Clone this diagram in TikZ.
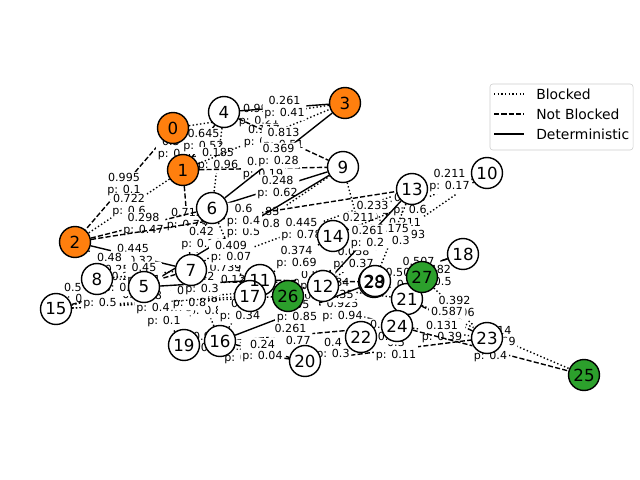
\documentclass[tikz,border=0pt]{standalone}
\usepackage{fontspec}
\setmainfont{DejaVu Sans}
\pgfdeclarelayer{back}
\pgfdeclarelayer{front}
\pgfsetlayers{back,main,front}
\definecolor{nodeorange}{HTML}{FF7F0E}
\definecolor{nodegreen}{HTML}{2CA02C}

\begin{document}
\begin{tikzpicture}[x=0.72pt,y=-0.72pt]

\tikzstyle{vertex}=[circle,draw=black,line width=1pt,fill=white,minimum size=22.3pt,inner sep=0pt]
\tikzstyle{blk}=[line width=1pt,dash pattern=on 1pt off 1.65pt]
\tikzstyle{nblk}=[line width=1pt,dash pattern=on 3.7pt off 1.6pt]
\tikzstyle{det}=[line width=1pt]
\tikzstyle{weight}=[midway,fill=white,inner sep=1.2pt,rounded corners=2pt,align=center,font=\fontsize{8}{8.6}\selectfont]
\useasboundingbox (0,0) rectangle (640,480);

\node[vertex, fill=nodeorange] (0) at (173,128){};
\node[vertex, fill=nodeorange] (1) at (183,170){};
\node[vertex, fill=nodeorange] (2) at (75,242){};
\node[vertex, fill=nodeorange] (3) at (345,103){};
\node[vertex] (4) at (224,112){};
\node[vertex] (5) at (144,287){};
\node[vertex] (6) at (212,208){};
\node[vertex] (7) at (191,270){};
\node[vertex] (8) at (97,279){};
\node[vertex] (9) at (343,167){};
\node[vertex] (10) at (487,173){};
\node[vertex] (11) at (260,280){};
\node[vertex] (12) at (323,286){};
\node[vertex] (13) at (412,189){};
\node[vertex] (14) at (333,236){};
\node[vertex] (15) at (56,309){};
\node[vertex] (16) at (220,341){};
\node[vertex] (17) at (250,296){};
\node[vertex] (18) at (463,254){};
\node[vertex] (19) at (184,345){};
\node[vertex] (20) at (305,361){};
\node[vertex] (21) at (407,299){};
\node[vertex] (22) at (361,337){};
\node[vertex] (23) at (487,338){};
\node[vertex] (24) at (397,326){};
\node[vertex, fill=nodegreen] (25) at (584,375){};
\node[vertex, fill=nodegreen] (26) at (288,296){};
\node[vertex, fill=nodegreen] (27) at (422,277){};
\node[vertex] (28) at (374,282){};
\node[vertex] (29) at (375,281){};

\begin{pgfonlayer}{back}
\draw[nblk] (0) -- (2)node[weight] {0.995\\p: 0.1};
\draw[blk] (1) -- (2)node[weight] {0.722\\p: 0.6};
\draw[blk] (0) -- (3)node[weight] {0.997\\p: 0.21};
\draw[nblk] (0) -- (1)node[weight] {0.374\\p: 0.83};
\draw[det] (1) -- (4)node[weight] {0.645\\p: 0.52};
\draw[blk] (4) -- (6)node[weight] {0.185\\p: 0.96};
\draw[nblk] (1) -- (9)node[weight] {0.902\\p: 0.19};
\draw[nblk] (1) -- (7)node[weight] {0.713\\p: 0.73};
\draw[blk] (1) -- (3)node[weight] {0.117\\p: 0.49};
\draw[det] (4) -- (3)node[weight] {0.261\\p: 0.41};
\draw[nblk] (4) -- (9)node[weight] {0.813\\p: 0.51};
\draw[det] (3) -- (6)node[weight] {0.369\\p: 0.28};
\draw[det] (6) -- (9)node[weight] {0.248\\p: 0.62};
\draw[nblk] (2) -- (6)node[weight] {0.298\\p: 0.47};
\draw[det] (2) -- (7)node[weight] {0.445\\p: 0.32};
\draw[blk] (2) -- (5)node[weight] {0.48\\p: 0.25};
\draw[blk] (6) -- (7)node[weight] {0.42\\p: 0.18};
\draw[nblk] (6) -- (14)node[weight] {0.456\\p: 0.33};
\draw[blk] (7) -- (9)node[weight] {0.83\\p: 0.85};
\draw[blk] (7) -- (13)node[weight] {0.445\\p: 0.78};
\draw[blk] (13) -- (14)node[weight] {0.233\\p: 0.7};
\draw[blk] (9) -- (28)node[weight] {0.211\\p: 0.9};
\draw[blk] (10) -- (14)node[weight] {0.185\\p: 0.6};
\draw[blk] (10) -- (12)node[weight] {0.211\\p: 0.93};
\draw[nblk] (13) -- (10)node[weight] {0.211\\p: 0.17};
\draw[det] (5) -- (9)node[weight] {0.374\\p: 0.5};
\draw[nblk] (2) -- (13)node[weight] {0.6\\p: 0.4};
\draw[blk] (13) -- (28)node[weight] {0.175\\p: 0.3};
\draw[blk] (14) -- (28)node[weight] {0.058\\p: 0.37};
\draw[det] (13) -- (12)node[weight] {0.261\\p: 0.2};
\draw[nblk] (18) -- (29)node[weight] {0.56\\p: 0.43};
\draw[det] (18) -- (28)node[weight] {0.507\\p: 0.29};
\draw[det] (18) -- (21)node[weight] {0.482\\p: 0.5};
\draw[blk] (27) -- (23)node[weight] {0.392\\p: 0.06};
\draw[blk] (21) -- (25)node[weight] {0.014\\p: 0.69};
\draw[nblk] (21) -- (23)node[weight] {0.587\\p: 0.2};
\draw[blk] (24) -- (23)node[weight] {0.131\\p: 0.39};
\draw[nblk] (20) -- (23)node[weight] {0.5\\p: 0.11};
\draw[nblk] (24) -- (25)node[weight] {0.3\\p: 0.4};
\draw[nblk] (26) -- (24)node[weight] {0.925\\p: 0.94};
\draw[blk] (11) -- (21)node[weight] {0.834\\p: 0.35};
\draw[det] (26) -- (12)node[weight] {0.73\\p: 0.9};
\draw[nblk] (11) -- (28)node[weight] {0.554\\p: 0.3};
\draw[det] (16) -- (28)node[weight] {0.35\\p: 0.85};
\draw[nblk] (19) -- (24)node[weight] {0.261\\p: 0.77};
\draw[det] (19) -- (20)node[weight] {0.298\\p: 0.14};
\draw[nblk] (16) -- (20)node[weight] {0.24\\p: 0.04};
\draw[nblk] (20) -- (22)node[weight] {0.4\\p: 0.3};
\draw[det] (19) -- (16)node[weight] {0.9\\p: 0.5};
\draw[blk] (19) -- (5)node[weight] {0.6\\p: 0.1};
\draw[blk] (16) -- (7)node[weight] {0.38\\p: 0.8};
\draw[blk] (16) -- (11)node[weight] {0.4\\p: 0.34};
\draw[blk] (7) -- (11)node[weight] {0.739\\p: 0.12};
\draw[blk] (6) -- (17)node[weight] {0.409\\p: 0.07};
\draw[blk] (14) -- (11)node[weight] {0.374\\p: 0.69};
\draw[blk] (15) -- (26)node[weight] {0.779\\p: 0.78};
\draw[blk] (15) -- (12)node[weight] {0.42\\p: 0.8};
\draw[blk] (15) -- (17)node[weight] {0.8\\p: 0.4};
\draw[nblk] (15) -- (8)node[weight] {0.58\\p: 0.2};
\draw[nblk] (15) -- (7)node[weight] {0.38\\p: 0.3};
\draw[blk] (15) -- (5)node[weight] {0.8\\p: 0.5};
\draw[det] (8) -- (5)node[weight] {0.2\\p: 0.9};
\draw[blk] (8) -- (7)node[weight] {0.45\\p: 0.1};
\draw[det] (5) -- (11)node[weight] {0.42\\p: 0.3};
\draw[det] (22) -- (24)node[weight] {0.7\\p: 0.2};
\draw[det] (27) -- (28)node[weight] {0.50\\p: 0.8};
\end{pgfonlayer}

\begin{pgfonlayer}{front}
\foreach \n in {0,...,29}
  \node[font=\fontsize{12}{14}\selectfont, inner sep=0pt] (t\n) at (\n) {\n};

\node[draw=black!20, fill=white, fill opacity=0.8, rounded corners=2pt, minimum width=103pt, minimum height=47.5pt] (key) at (561.5,117){};
\coordinate (kb1) at (494,94);
\coordinate (kb2) at (524,94);
\coordinate (kn1) at (494,114);
\coordinate (kn2) at (524,114);
\coordinate (kd1) at (494,134);
\coordinate (kd2) at (524,134);
\draw[blk] (kb1) -- (kb2);
\draw[nblk] (kn1) -- (kn2);
\draw[det] (kd1) -- (kd2);
\node[anchor=west, font=\fontsize{10}{12}\selectfont, inner sep=0pt] (tb) at (536,94) {Blocked};
\node[anchor=west, font=\fontsize{10}{12}\selectfont, inner sep=0pt] (tn) at (536,114) {Not Blocked};
\node[anchor=west, font=\fontsize{10}{12}\selectfont, inner sep=0pt] (td) at (536,134) {Deterministic};
\end{pgfonlayer}
\end{tikzpicture}
\end{document}
